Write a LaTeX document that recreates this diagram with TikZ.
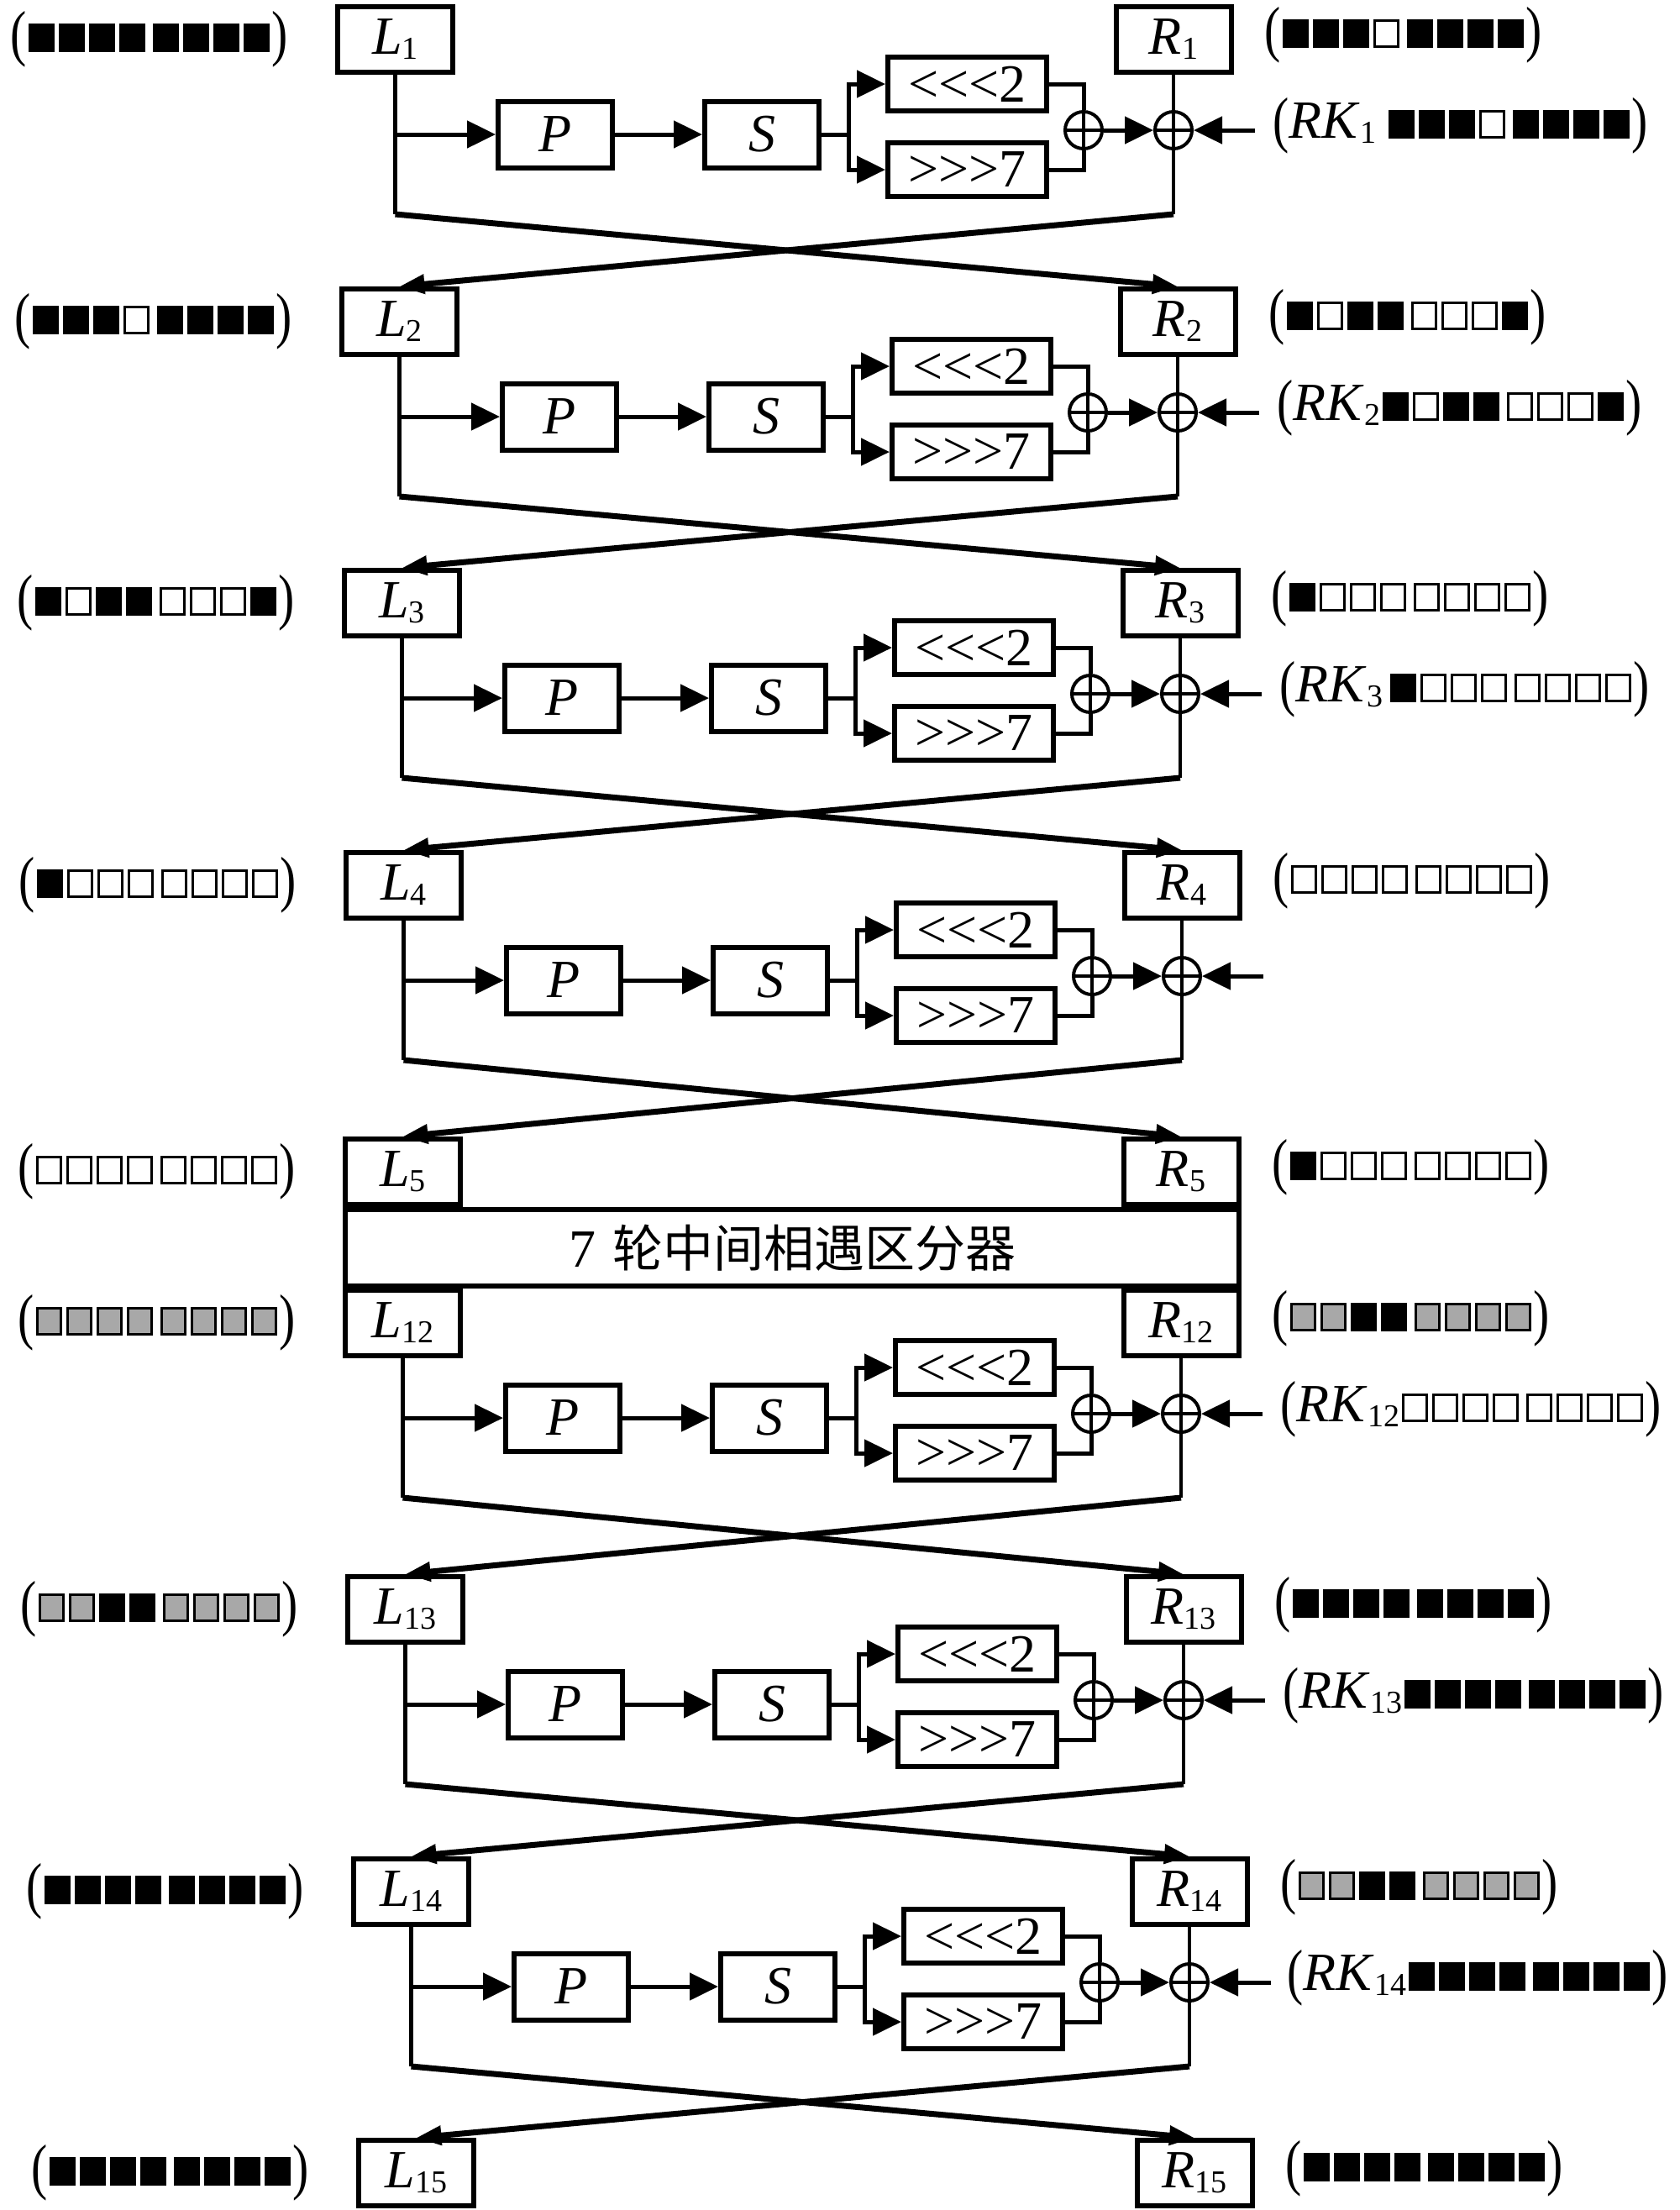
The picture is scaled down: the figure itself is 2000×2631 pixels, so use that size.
\documentclass[tikz,border=0pt]{standalone}
\usepackage{fontspec}
\usepackage{graphicx}
\setmainfont{Liberation Serif}
\newfontfamily\cjkfont{Noto Sans CJK SC}
\usetikzlibrary{arrows.meta}
\definecolor{cellgray}{HTML}{A8A8A8}
\setlength\fboxsep{0pt}
\setlength\fboxrule{1.5pt}
\newcommand\cellB{\hspace{1.25pt}\rule{15.5pt}{17pt}\hspace{1.25pt}}
\newcommand\cellW{\hspace{1.25pt}\raisebox{1.5pt}{\fbox{\rule{0pt}{14pt}\hspace{12.5pt}}}\hspace{1.25pt}}
\newcommand\cellG{\hspace{1.25pt}\raisebox{1.5pt}{\fcolorbox{black}{cellgray}{\rule{0pt}{14pt}\hspace{12.5pt}}}\hspace{1.25pt}}
\newcommand\cellx{\hspace{2pt}}
\def\patloop#1{\ifx#1\relax\else\csname cell#1\endcsname\expandafter\patloop\fi}
\newcommand\pat[1]{\patloop#1\relax}
\newcommand\lpar{\raisebox{-1.5pt}{\scalebox{0.9}[1.15]{(}}}
\newcommand\rpar{\raisebox{-1.5pt}{\scalebox{0.9}[1.15]{)}}}
\newcommand\sub[1]{\raisebox{-3pt}{\fontsize{19}{19}\selectfont #1}}
\newcommand\vlab[2]{\textit{#1}\sub{#2}}

% boxes of one row: id, top, x-offset
\newcommand\rowboxes[3]{%
  \node[bx] (L#1) at (470.5+#3,#2+42) {\vlab{L}{#1}};
  \node[bx] (R#1) at (1397+#3,#2+42) {\vlab{R}{#1}};
}
% body of one round: id, top, x-offset, next id
\newcommand\fround[4]{%
  \begin{scope}[shift={(#3,#2)}]
    \coordinate (br#1) at (470.5,155);
    \coordinate (lb#1) at (470.5,250);
    \coordinate (rb#1) at (1397,250);
    \coordinate (sp#1) at (1010,155);
    \coordinate (rk#1) at (1494,150);
    \node[pbx] (P#1) at (661,155) {\textit{P}};
    \node[pbx] (S#1) at (907,155) {\textit{S}};
    \node[rbx] (A#1) at (1151.5,95) {<\kern0pt<\kern0pt<2};
    \node[rbx] (B#1) at (1151.5,197) {>\kern0pt>\kern0pt>7};
    \node[xorn] (X#1) at (1290,150) {};
    \node[xorn] (Y#1) at (1397,150) {};
  \end{scope}
  \draw[ln] (L#1.south) -- (lb#1);
  \draw[arr] (br#1) -- (P#1.west);
  \draw[arr] (P#1.east) -- (S#1.west);
  \draw[ln] (S#1.east) -- (sp#1);
  \draw[arr] (sp#1) |- (A#1.west);
  \draw[arr] (sp#1) |- (B#1.west);
  \draw[ln] (A#1.east) -| (X#1.north);
  \draw[ln] (B#1.east) -| (X#1.south);
  \draw[arr] (X#1.east) -- (Y#1.west);
  \draw[thinln] (R#1.south) -- (rb#1);
  \draw[arr] (rk#1) -- (Y#1.east);
  \draw[crs] (lb#1) -- (R#4.north);
  \draw[crs] (rb#1) -- (L#4.north);
}

\begin{document}
\begin{tikzpicture}[x=0.5pt,y=-0.5pt,
  every node/.style={font=\fontsize{32}{38}\selectfont},
  bx/.style={draw,line width=3pt,fill=white,minimum width=68.5pt,minimum height=39pt,inner sep=0pt},
  pbx/.style={draw,line width=3pt,fill=white,minimum width=68pt,minimum height=39.5pt,inner sep=0pt},
  rbx/.style={draw,line width=3pt,fill=white,minimum width=94.5pt,minimum height=32pt,inner sep=0pt},
  xorn/.style={circle,draw,line width=2pt,minimum size=22pt,inner sep=0pt,
    path picture={\draw[line width=2pt] (path picture bounding box.north) -- (path picture bounding box.south)
      (path picture bounding box.west) -- (path picture bounding box.east);}},
  ln/.style={line width=2.5pt},
  thinln/.style={line width=2pt},
  arr/.style={line width=2.5pt,-{Triangle[length=17pt,width=16pt]}},
  crs/.style={line width=3.5pt,-{Triangle[length=15pt,width=11pt]}},
  lbl/.style={inner sep=0pt,anchor=west},
]
\useasboundingbox (0,0) rectangle (2000,2631);
\fill[white] (0,0) rectangle (2000,2631);

% boxes
\rowboxes{1}{5}{0}
\rowboxes{2}{341}{5}
\rowboxes{3}{676}{8}
\rowboxes{4}{1012}{10}
\rowboxes{5}{1353}{9}
\rowboxes{12}{1533}{9}
\rowboxes{13}{1874}{12}
\rowboxes{14}{2210}{19}
\rowboxes{15}{2545}{25}

% middle distinguisher
\node[draw,line width=3pt,minimum width=532pt,minimum height=45.5pt,inner sep=0pt] (M) at (943,1485.5)
  {7\hspace{10pt}{\cjkfont\fontsize{30}{36}\selectfont 轮中间相遇区分器}};
\node[bx] (L5b) at (L5) {\vlab{L}{5}};
\node[bx] (R5b) at (R5) {\vlab{R}{5}};
\node[bx] (L12b) at (L12) {\vlab{L}{12}};
\node[bx] (R12b) at (R12) {\vlab{R}{12}};

% rounds
\fround{1}{5}{0}{2}
\fround{2}{341}{5}{3}
\fround{3}{676}{8}{4}
\fround{4}{1012}{10}{5}
\fround{12}{1533}{9}{13}
\fround{13}{1874}{12}{14}
\fround{14}{2210}{19}{15}

% left labels
\node[lbl] (ll1) at (12,47) {\lpar\pat{BBBBxBBBB}\rpar};
\node[lbl] (ll2) at (17,383) {\lpar\pat{BBBWxBBBB}\rpar};
\node[lbl] (ll3) at (20,718) {\lpar\pat{BWBBxWWWB}\rpar};
\node[lbl] (ll4) at (22,1054) {\lpar\pat{BWWWxWWWW}\rpar};
\node[lbl] (ll5) at (21,1395) {\lpar\pat{WWWWxWWWW}\rpar};
\node[lbl] (ll12) at (21,1575) {\lpar\pat{GGGGxGGGG}\rpar};
\node[lbl] (ll13) at (24,1916) {\lpar\pat{GGBBxGGGG}\rpar};
\node[lbl] (ll14) at (31,2252) {\lpar\pat{BBBBxBBBB}\rpar};
\node[lbl] (ll15) at (37,2587) {\lpar\pat{BBBBxBBBB}\rpar};

% right labels
\node[lbl] (rl1) at (1505,42) {\lpar\pat{BBBWxBBBB}\rpar};
\node[lbl] (rl2) at (1510,378) {\lpar\pat{BWBBxWWWB}\rpar};
\node[lbl] (rl3) at (1513,713) {\lpar\pat{BWWWxWWWW}\rpar};
\node[lbl] (rl4) at (1515,1049) {\lpar\pat{WWWWxWWWW}\rpar};
\node[lbl] (rl5) at (1514,1390) {\lpar\pat{BWWWxWWWW}\rpar};
\node[lbl] (rl12) at (1514,1570) {\lpar\pat{GGBBxGGGG}\rpar};
\node[lbl] (rl13) at (1517,1911) {\lpar\pat{BBBBxBBBB}\rpar};
\node[lbl] (rl14) at (1524,2247) {\lpar\pat{GGBBxGGGG}\rpar};
\node[lbl] (rl15) at (1530,2582) {\lpar\pat{BBBBxBBBB}\rpar};

% round key labels
\node[lbl] (kl1) at (1515,150) {\lpar\vlab{RK}{1}\hspace{6pt}\pat{BBBWxBBBB}\rpar};
\node[lbl] (kl2) at (1520,486) {\lpar\vlab{RK}{2}\pat{BWBBxWWWB}\rpar};
\node[lbl] (kl3) at (1523,821) {\lpar\vlab{RK}{3}\hspace{3pt}\pat{BWWWxWWWW}\rpar};
\node[lbl] (kl12) at (1524,1678) {\lpar\vlab{RK}{12}\pat{WWWWxWWWW}\rpar};
\node[lbl] (kl13) at (1527,2019) {\lpar\vlab{RK}{13}\pat{BBBBxBBBB}\rpar};
\node[lbl] (kl14) at (1532,2355) {\lpar\vlab{RK}{14}\pat{BBBBxBBBB}\rpar};
\end{tikzpicture}
\end{document}
